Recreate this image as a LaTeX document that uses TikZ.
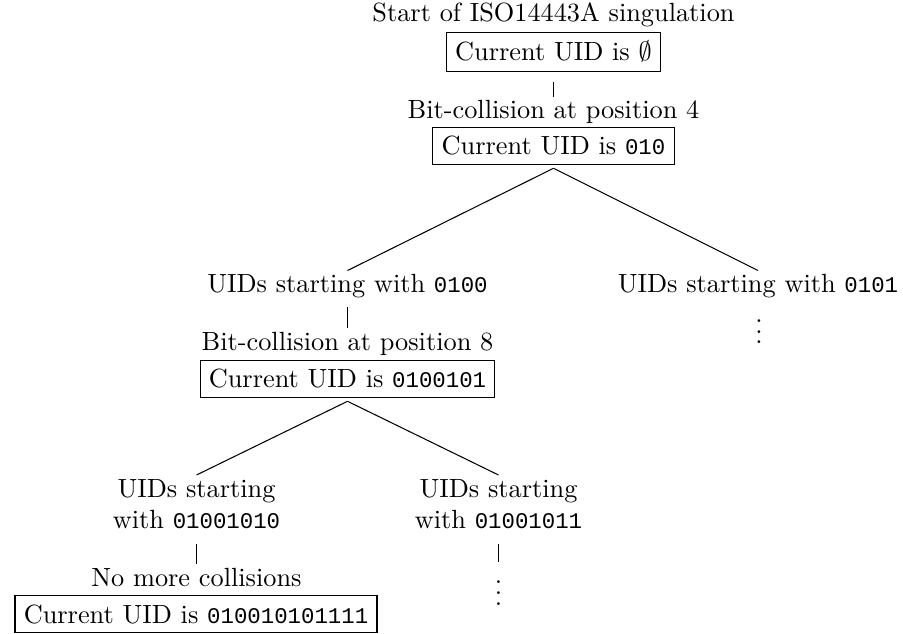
\documentclass[tikz,border=0pt]{standalone}
\usepackage{fontspec}
\setmonofont{Liberation Mono}[Scale=0.85]
\usepackage{tikz}
\usetikzlibrary{positioning}
% three stacked dots without the top kern of \vdots
\newcommand\dotcol{\vbox{\baselineskip4pt\lineskiplimit0pt\hbox{.}\hbox{.}\hbox{.}}}

\begin{document}
\begin{tikzpicture}[x=0.38pt,y=-0.38pt,
  lbl/.style={inner sep=1.4pt},
  uidbox/.style={draw, line width=0.4pt, inner sep=3.33pt, outer xsep=0pt, outer ysep=1.5pt},
  branch/.style={line width=0.4pt}]
  \useasboundingbox (0,0) rectangle (903,634);
  % root of the singulation
  \node[lbl, anchor=base] (start) at (553.5,22) {Start of ISO14443A singulation};
  \node[uidbox, anchor=base] (uid0) at (553.5,61) {Current UID is $\emptyset$};
  % first collision
  \node[lbl, anchor=base] (coll4) at (553.5,119) {Bit-collision at position 4};
  \node[uidbox, anchor=base] (uid1) at (553.5,155) {Current UID is \texttt{010}};
  % the two branches after bit 4
  \node[lbl, anchor=base] (with0100) at (347.5,293) {UIDs starting with \texttt{0100}};
  \node[lbl, anchor=base] (with0101) at (758,293) {UIDs starting with \texttt{0101}};
  \node[lbl, anchor=base] (dots1) at (759,344) {\dotcol};
  % second collision
  \node[lbl, anchor=base] (coll8) at (347.5,350) {Bit-collision at position 8};
  \node[uidbox, anchor=base] (uid2) at (347.5,388) {Current UID is \texttt{0100101}};
  % the two branches after bit 8
  \node[lbl, anchor=north, align=center] (with1010) at (196.5,475) {UIDs starting\\with \texttt{01001010}};
  \node[lbl, anchor=north, align=center] (with1011) at (498.5,475) {UIDs starting\\with \texttt{01001011}};
  % leaf
  \node[lbl, anchor=base] (nomore) at (196.5,586) {No more collisions};
  \node[uidbox, anchor=base] (uid3) at (196,623) {Current UID is \texttt{010010101111}};
  \node[lbl, anchor=base] (dots2) at (498.5,605) {\dotcol};
  % branches
  \draw[branch, shorten <=2.6pt] (uid0.south) -- (coll4.north);
  \draw[branch] (uid1.south) -- (with0100.north);
  \draw[branch] (uid1.south) -- (with0101.north);
  \draw[branch, shorten <=1.8pt] (with0100.south) -- (coll8.north);
  \draw[branch] (uid2.south) -- (with1010.north);
  \draw[branch] (uid2.south) -- (with1011.north);
  \draw[branch, shorten <=4.1pt] (with1010.south) -- (nomore.north);
  \draw[branch, shorten <=4.1pt, shorten >=5.5pt] (with1011.south) -- (dots2.north);
\end{tikzpicture}
\end{document}
